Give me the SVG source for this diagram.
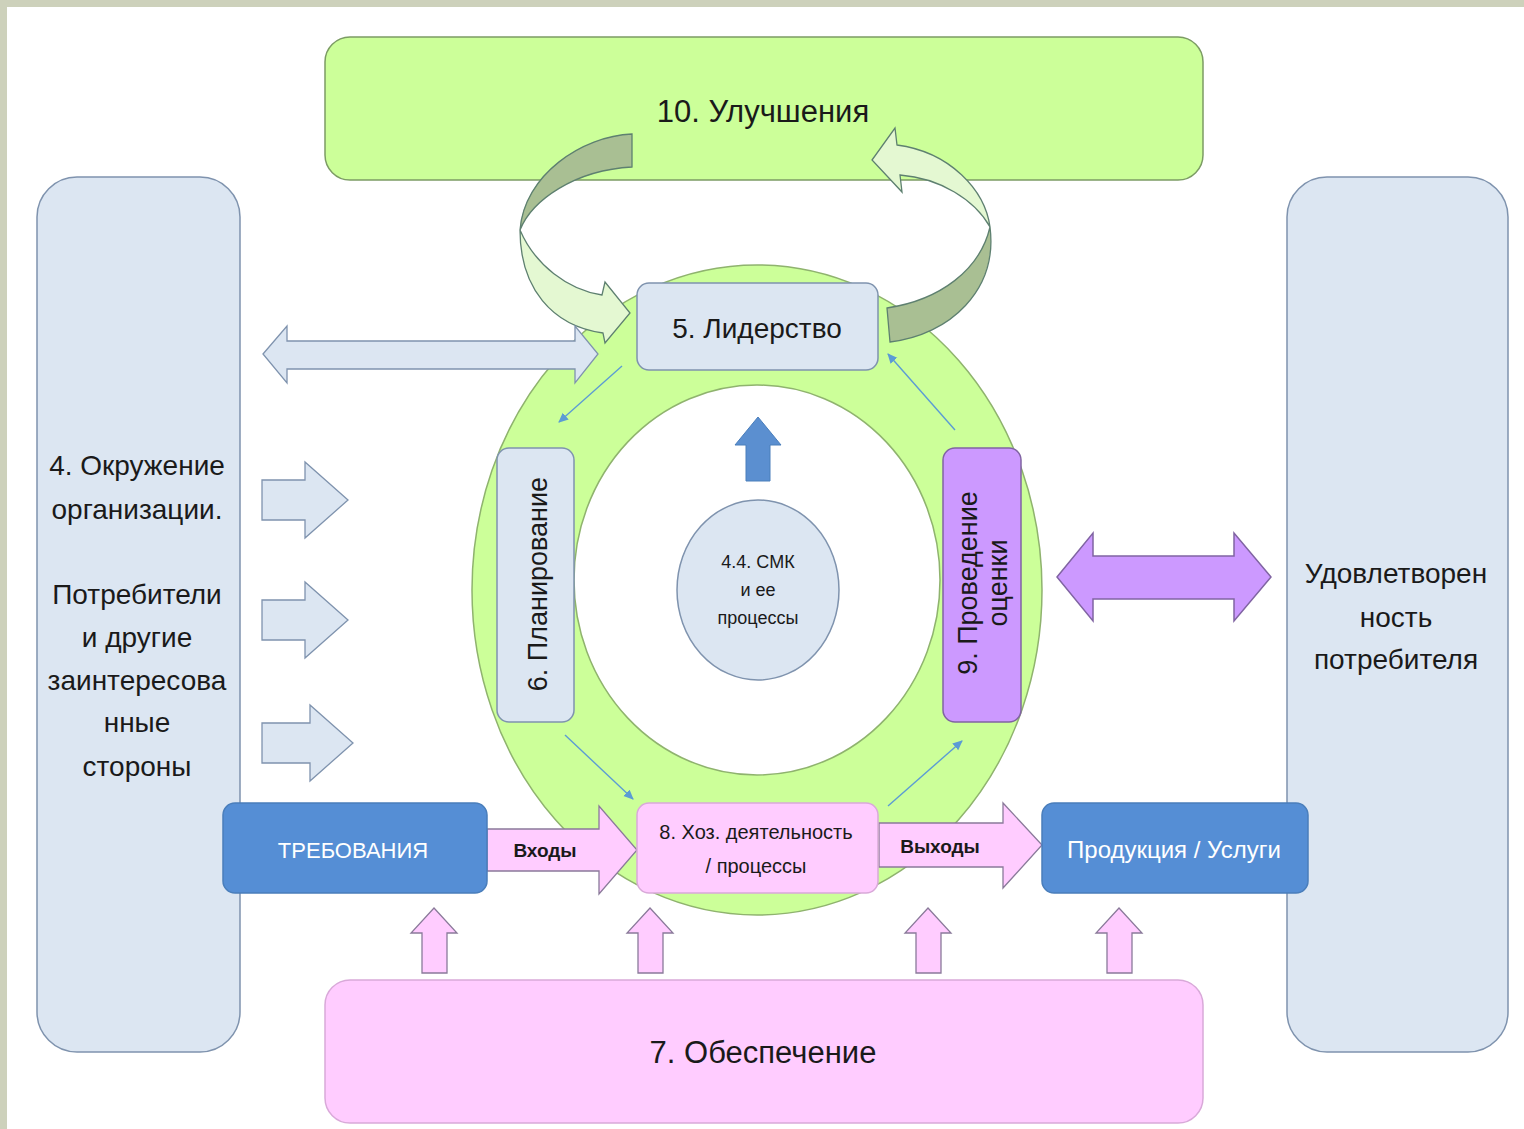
<svg xmlns="http://www.w3.org/2000/svg" width="1524" height="1129" viewBox="0 0 1524 1129">
<defs>
<style>
.t{font-family:"Liberation Sans",Arial,sans-serif;fill:#1a1a1a;text-anchor:middle}
.w{fill:#ffffff}
.b{font-weight:bold}
.blue{fill:#DCE6F2;stroke:#7F93AE;stroke-width:1.5}
.green{fill:#CCFF99;stroke:#7C9C64;stroke-width:1.5}
.pink{fill:#FFCCFF;stroke:#D9A9D9;stroke-width:1.5}
.dblue{fill:#558ED5;stroke:#4A7EBB;stroke-width:1.5}
.purple{fill:#CC99FF;stroke:#8064A2;stroke-width:1.5}
.parrow{fill:#FFCCFF;stroke:#8A7A9A;stroke-width:1.3}
.barrow{fill:#DCE6F2;stroke:#7F93AE;stroke-width:1.3}
.rdark{fill:#A9BF93;stroke:#5E8070;stroke-width:1.3}
.rlight{fill:#E4F8D2;stroke:#5E8070;stroke-width:1.3}
.thin{stroke:#5B9BD5;stroke-width:1.4;fill:none;marker-end:url(#ah)}
</style>
<marker id="ah" markerWidth="12" markerHeight="12" refX="9" refY="5" orient="auto" markerUnits="userSpaceOnUse">
<path d="M0,0.5 L10,5 L0,9.5 Z" fill="#5B9BD5"/>
</marker>
</defs>

<rect x="0" y="0" width="1524" height="1129" fill="#CDD1BB"/>
<rect x="7" y="7" width="1517" height="1122" fill="#ffffff"/>

<g id="n10">
<rect x="325" y="37" width="878" height="143" rx="25" class="green"/>
<text class="t" x="763" y="122" font-size="31">10. Улучшения</text>
</g>

<g id="n4">
<rect x="37" y="177" width="203" height="875" rx="40" class="blue"/>
<text class="t" font-size="28"><tspan x="137" y="475">4. Окружение</tspan><tspan x="137" y="519">организации.</tspan><tspan x="137" y="604">Потребители</tspan><tspan x="137" y="647">и другие</tspan><tspan x="137" y="690">заинтересова</tspan><tspan x="137" y="732">нные</tspan><tspan x="137" y="776">стороны</tspan></text>
</g>

<g id="nsat">
<rect x="1287" y="177" width="221" height="875" rx="40" class="blue"/>
<text class="t" font-size="28"><tspan x="1396" y="583">Удовлетворен</tspan><tspan x="1396" y="627">ность</tspan><tspan x="1396" y="669">потребителя</tspan></text>
</g>

<g id="n7">
<rect x="325" y="980" width="878" height="143" rx="25" class="pink"/>
<text class="t" x="763" y="1063" font-size="31">7. Обеспечение</text>
</g>

<g id="ring">
<ellipse cx="757" cy="590" rx="285" ry="325" fill="#CCFF99" stroke="#8FB36E" stroke-width="1.5"/>
<ellipse cx="757" cy="580" rx="183" ry="195" fill="#ffffff" stroke="#8FB36E" stroke-width="1.5"/>
</g>

<g id="connectors">
<path class="rdark" d="M632,134 C582,136 524,175 520,230 C532,200 575,170 632,167 Z"/>
<path class="rlight" d="M520,230 C520,288 552,326 603,333 L605,343 L630,313 L605,282 L602,295 C568,290 535,265 520,230 Z"/>
<path class="rdark" d="M990,227 C998,290 950,335 890,342 L887,308 C940,300 980,270 990,227 Z"/>
<path class="rlight" d="M990,227 C985,190 950,152 897,145 L895,128 L872,160 L902,192 L900,175 C940,178 975,200 990,227 Z"/>

<polygon class="barrow" points="263,354 287,326 287,341 575,341 575,326 598,354 575,383 575,369 287,369 287,383"/>
<polygon class="barrow" points="262,480 305,480 305,462 348,500 305,538 305,520 262,520"/>
<polygon class="barrow" points="262,600 305,600 305,582 348,620 305,658 305,640 262,640"/>
<polygon class="barrow" points="262,723 310,723 310,705 353,743 310,781 310,763 262,763"/>

<polygon fill="#5B8FD0" stroke="#4A7EBB" stroke-width="1" points="758,417 781,445 770,445 770,481 746,481 746,445 735,445"/>

<polygon class="purple" points="1057,577 1093,533 1093,556 1234,556 1234,533 1271,577 1234,621 1234,599 1093,599 1093,621"/>

<polygon class="parrow" points="487,829 599,829 599,806 637,850 599,894 599,871 487,871"/>
<polygon class="parrow" points="879,823 1003,823 1003,803 1042,845 1003,888 1003,867 879,867"/>

<polygon class="parrow" points="434,908 457,933 447,933 447,973 422,973 422,933 411,933"/>
<polygon class="parrow" points="650,908 673,933 663,933 663,973 638,973 638,933 627,933"/>
<polygon class="parrow" points="928,908 951,933 941,933 941,973 916,973 916,933 905,933"/>
<polygon class="parrow" points="1119,908 1142,933 1132,933 1132,973 1107,973 1107,933 1096,933"/>

<line class="thin" x1="622" y1="366" x2="559" y2="422"/>
<line class="thin" x1="565" y1="735" x2="633" y2="799"/>
<line class="thin" x1="888" y1="806" x2="962" y2="741"/>
<line class="thin" x1="955" y1="430" x2="888" y2="354"/>
</g>

<g id="n5">
<rect x="637" y="283" width="241" height="87" rx="12" class="blue"/>
<text class="t" x="757" y="338" font-size="28">5. Лидерство</text>
</g>

<g id="n6">
<rect x="497" y="448" width="77" height="274" rx="12" class="blue"/>
<text class="t" x="537" y="594" font-size="27" transform="rotate(-90 537 584)">6. Планирование</text>
</g>

<g id="n9">
<rect x="943" y="448" width="78" height="274" rx="12" class="purple"/>
<text class="t" font-size="27" transform="rotate(-90 982 583)"><tspan x="982" y="578">9. Проведение</tspan><tspan x="982" y="608">оценки</tspan></text>
</g>

<g id="n44">
<ellipse cx="758" cy="590" rx="81" ry="90" class="blue"/>
<text class="t" font-size="18"><tspan x="758" y="568">4.4. СМК</tspan><tspan x="758" y="596">и ее</tspan><tspan x="758" y="624">процессы</tspan></text>
</g>

<g id="nreq">
<rect x="223" y="803" width="264" height="90" rx="12" class="dblue"/>
<text class="t w" x="353" y="858" font-size="22">ТРЕБОВАНИЯ</text>
</g>

<g id="n8">
<rect x="637" y="803" width="241" height="90" rx="12" class="pink"/>
<text class="t" font-size="20"><tspan x="756" y="839">8. Хоз. деятельность</tspan><tspan x="756" y="873">/ процессы</tspan></text>
</g>

<g id="nprod">
<rect x="1042" y="803" width="266" height="90" rx="12" class="dblue"/>
<text class="t w" x="1174" y="858" font-size="24">Продукция / Услуги</text>
</g>

<g id="labels">
<text class="t b" x="545" y="857" font-size="19">Входы</text>
<text class="t b" x="940" y="853" font-size="19">Выходы</text>
</g>
</svg>
